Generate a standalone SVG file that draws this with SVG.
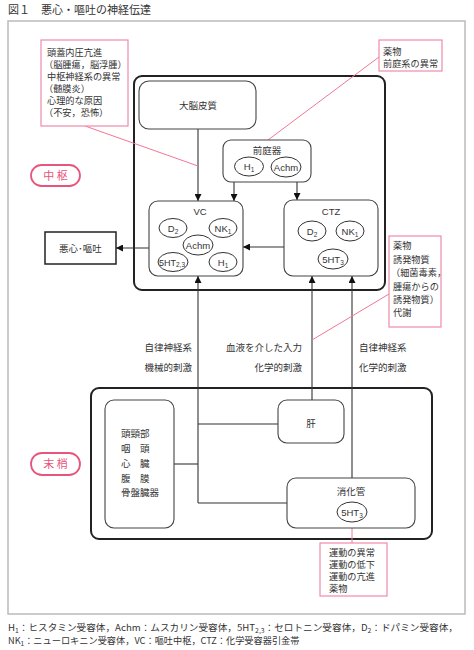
<svg xmlns="http://www.w3.org/2000/svg" width="474" height="650" viewBox="0 0 474 650">
<defs>
<style>
text{font-family:"Liberation Sans","Noto Sans CJK JP",sans-serif;fill:#333;font-size:9.5px}
.jp{font-family:"Noto Sans CJK JP",sans-serif}
.nt{font-size:9.2px}
.big{fill:none;stroke:#222;stroke-width:2}
.box{fill:#fff;stroke:#444;stroke-width:1.1}
.ell{fill:#fff;stroke:#333;stroke-width:1}
.pk{fill:#fff;stroke:#f08aa8;stroke-width:1.2}
.pkl{stroke:#f07896;stroke-width:1;fill:none}
.pill{fill:#fff;stroke:#e8557c;stroke-width:1.8}
.pilt{fill:#e8557c;font-size:11px;font-family:"Noto Sans CJK JP",sans-serif}
.ln{stroke:#333;stroke-width:1.1;fill:none}
.c{text-anchor:middle}
.r{text-anchor:end}
.sub{font-size:6.5px}
</style>
<marker id="ah" viewBox="0 0 10 10" refX="10" refY="5" markerWidth="7" markerHeight="7" markerUnits="userSpaceOnUse" orient="auto">
<path d="M0,0 L10,5 L0,10 z" fill="#111"/>
</marker>
</defs>
<rect width="474" height="650" fill="#fff"/>
<text x="8" y="14" class="jp" style="font-size:11px;fill:#333">図１　悪心・嘔吐の神経伝達</text>
<rect x="8" y="21" width="457" height="593" fill="none" stroke="#bbb" stroke-width="1.5"/>

<g id="central-frame"><rect x="134" y="76" width="251" height="214" rx="8" class="big"/></g>
<g id="peripheral-frame"><rect x="91" y="388" width="341" height="151" rx="8" class="big"/></g>

<g id="connectors">
<line x1="198" y1="129" x2="198" y2="201" class="ln" marker-end="url(#ah)"/>
<line x1="234" y1="182" x2="234" y2="201" class="ln" marker-end="url(#ah)"/>
<line x1="297" y1="182" x2="297" y2="200" class="ln" marker-end="url(#ah)"/>
<line x1="284" y1="247" x2="243" y2="247" class="ln" marker-end="url(#ah)"/>
<line x1="149" y1="248" x2="116" y2="248" class="ln" marker-end="url(#ah)"/>
<line x1="198" y1="503" x2="198" y2="276" class="ln" marker-end="url(#ah)"/>
<line x1="312" y1="400" x2="312" y2="276" class="ln" marker-end="url(#ah)"/>
<line x1="352" y1="478" x2="352" y2="276" class="ln" marker-end="url(#ah)"/>
<line x1="174" y1="464" x2="198" y2="464" class="ln"/>
<line x1="198" y1="424" x2="278" y2="424" class="ln"/>
<line x1="198" y1="503" x2="287" y2="503" class="ln"/>
<line x1="85" y1="126" x2="198" y2="166" class="pkl"/>
<line x1="379" y1="57" x2="268" y2="140" class="pkl"/>
<line x1="389" y1="294" x2="312" y2="340" class="pkl"/>
<line x1="352" y1="528" x2="352" y2="543" class="pkl"/>
</g>

<g id="label-note1">
<rect x="41" y="40" width="87" height="86" class="pk"/>
<text x="47" y="56" class="jp nt">頭蓋内圧亢進</text>
<text x="44" y="68" class="jp nt">（脳腫瘍，脳浮腫）</text>
<text x="47" y="80" class="jp nt">中枢神経系の異常</text>
<text x="44" y="92" class="jp nt">（髄膜炎）</text>
<text x="47" y="104" class="jp nt">心理的な原因</text>
<text x="44" y="116" class="jp nt">（不安，恐怖）</text>
</g>

<g id="label-note2">
<rect x="379" y="40" width="63" height="31" class="pk"/>
<text x="383" y="55" class="jp nt">薬物</text>
<text x="383" y="67" class="jp nt">前庭系の異常</text>
</g>

<g id="label-note3">
<rect x="389" y="236" width="52" height="91" class="pk"/>
<text x="393" y="249" class="jp nt">薬物</text>
<text x="393" y="263" class="jp nt">誘発物質</text>
<text x="391" y="276" class="jp nt">（細菌毒素，</text>
<text x="393" y="290" class="jp nt">腫瘍からの</text>
<text x="393" y="303" class="jp nt">誘発物質）</text>
<text x="393" y="316" class="jp nt">代謝</text>
</g>

<g id="label-note4">
<rect x="320" y="543" width="67" height="53" class="pk"/>
<text x="329" y="556" class="jp nt">運動の異常</text>
<text x="329" y="568" class="jp nt">運動の低下</text>
<text x="329" y="580" class="jp nt">運動の亢進</text>
<text x="329" y="592" class="jp nt">薬物</text>
</g>

<g id="pill-central">
<rect x="31" y="165" width="49" height="21" rx="10.5" class="pill"/>
<text x="55.5" y="180" class="pilt c">中 枢</text>
</g>
<g id="pill-peripheral">
<rect x="31" y="453" width="49" height="22" rx="11" class="pill"/>
<text x="55.5" y="468" class="pilt c">末 梢</text>
</g>

<g id="cortex">
<rect x="139" y="81" width="117" height="48" rx="10" class="box"/>
<text x="198" y="109" class="jp c">大脳皮質</text>
</g>

<g id="vestibular">
<rect x="223" y="140" width="88" height="42" rx="8" class="box"/>
<text x="267" y="154" class="jp c">前庭器</text>
<ellipse cx="249" cy="166.5" rx="14.5" ry="9.5" class="ell"/>
<text x="249" y="170" class="c">H<tspan class="sub" dy="2">1</tspan></text>
<ellipse cx="286" cy="167" rx="15" ry="10" class="ell"/>
<text x="286" y="170.5" class="c">Achm</text>
</g>

<g id="vc">
<rect x="149" y="201" width="94" height="75" rx="9" class="box"/>
<text x="200" y="215" class="c">VC</text>
<ellipse cx="173" cy="228" rx="14" ry="9.5" class="ell"/>
<text x="173" y="231.5" class="c">D<tspan class="sub" dy="2">2</tspan></text>
<ellipse cx="223" cy="228" rx="14" ry="9.5" class="ell"/>
<text x="223" y="231.5" class="c">NK<tspan class="sub" dy="2">1</tspan></text>
<ellipse cx="198" cy="245" rx="15" ry="10" class="ell"/>
<text x="198" y="248.5" class="c">Achm</text>
<ellipse cx="173" cy="262" rx="15" ry="9.5" class="ell"/>
<text x="172" y="265.5" class="c" style="font-size:9px">5HT<tspan class="sub" dy="1.5">2,3</tspan></text>
<ellipse cx="223" cy="262" rx="14" ry="9.5" class="ell"/>
<text x="223" y="265.5" class="c">H<tspan class="sub" dy="2">1</tspan></text>
</g>

<g id="ctz">
<rect x="284" y="200" width="94" height="76" rx="9" class="box"/>
<text x="331" y="215" class="c">CTZ</text>
<ellipse cx="312" cy="231" rx="14" ry="10" class="ell"/>
<text x="312" y="234.5" class="c">D<tspan class="sub" dy="2">2</tspan></text>
<ellipse cx="350" cy="231" rx="14" ry="10" class="ell"/>
<text x="350" y="234.5" class="c">NK<tspan class="sub" dy="2">1</tspan></text>
<ellipse cx="333" cy="259" rx="15" ry="10" class="ell"/>
<text x="333" y="262.5" class="c">5HT<tspan class="sub" dy="2">3</tspan></text>
</g>

<g id="nausea">
<rect x="45" y="232" width="71" height="32" fill="#fff" stroke="#222" stroke-width="1.5"/>
<text x="80.5" y="251.5" class="jp c">悪心･嘔吐</text>
</g>

<g id="path-labels">
<text x="192" y="351" class="jp r">自律神経系</text>
<text x="192" y="371" class="jp r">機械的刺激</text>
<text x="302" y="351" class="jp r">血液を介した入力</text>
<text x="302" y="371" class="jp r">化学的刺激</text>
<text x="359" y="351" class="jp">自律神経系</text>
<text x="359" y="371" class="jp">化学的刺激</text>
</g>

<g id="head-organs">
<rect x="105" y="400" width="69" height="128" rx="9" class="box"/>
<text x="121" y="437" class="jp">頭頸部</text>
<text x="121" y="452" class="jp">咽　頭</text>
<text x="121" y="467" class="jp">心　臓</text>
<text x="121" y="482" class="jp">腹　膜</text>
<text x="121" y="496" class="jp">骨盤臓器</text>
</g>

<g id="liver">
<rect x="278" y="400" width="66" height="43" rx="9" class="box"/>
<text x="311" y="427" class="jp c">肝</text>
</g>

<g id="gut">
<rect x="287" y="478" width="128" height="50" rx="9" class="box"/>
<text x="351" y="495" class="jp c">消化管</text>
<ellipse cx="352" cy="512" rx="15" ry="10" class="ell"/>
<text x="352" y="515.5" class="c">5HT<tspan class="sub" dy="2">3</tspan></text>
</g>

<g id="footer">
<text x="8" y="631" class="jp" style="font-size:9.2px" textLength="450" lengthAdjust="spacingAndGlyphs">H<tspan class="sub" baseline-shift="-2">1</tspan>：ヒスタミン受容体，Achm：ムスカリン受容体，5HT<tspan class="sub" baseline-shift="-2">2,3</tspan>：セロトニン受容体，D<tspan class="sub" baseline-shift="-2">2</tspan>：ドパミン受容体，</text>
<text x="8" y="644" class="jp" style="font-size:9.2px">NK<tspan class="sub" baseline-shift="-2">1</tspan>：ニューロキニン受容体，VC：嘔吐中枢，CTZ：化学受容器引金帯</text>
</g>
</svg>
